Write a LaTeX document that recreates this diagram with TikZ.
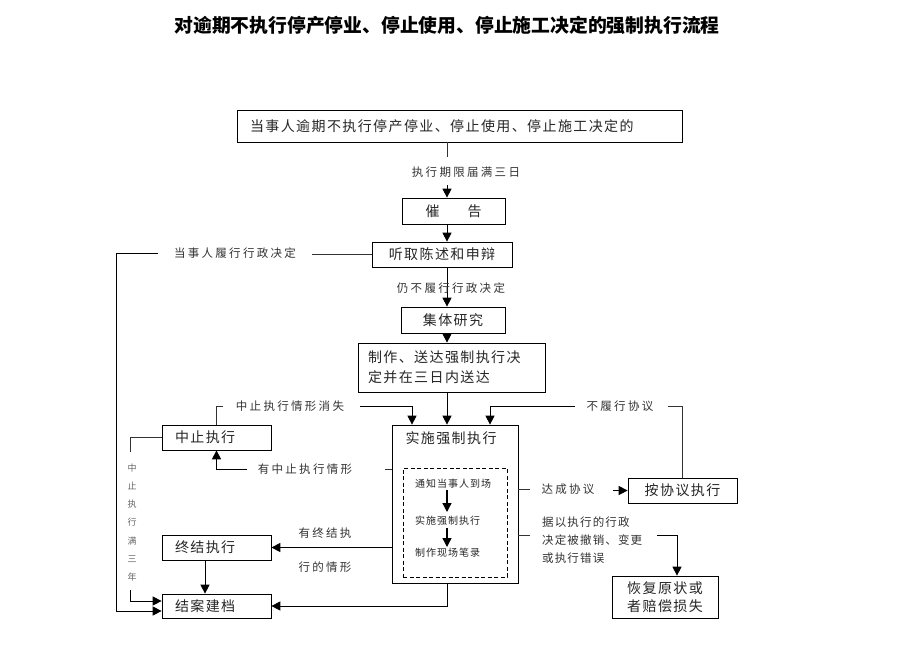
\documentclass[tikz,border=0pt]{standalone}
\usepackage{fontspec}
\setmainfont{Noto Sans CJK SC}
\newfontfamily\boxfont[LetterSpace=10]{Noto Sans CJK SC}
\newfontfamily\labfont[LetterSpace=20]{Noto Sans CJK SC}
\usetikzlibrary{arrows.meta,shadows}
\tikzset{
  box/.style={draw, line width=0.7pt, fill=white, inner sep=0pt, text=black!85,
    drop shadow={shadow xshift=1.2pt, shadow yshift=-1.2pt, fill=black, opacity=1},
    font=\boxfont\fontsize{14}{20}\selectfont, align=center},
  lbox/.style={box, text width=83pt, inner xsep=13pt, align=left},
  lab/.style={font=\labfont\fontsize{11.5}{18}\selectfont, text=black!80, inner sep=0pt},
  small/.style={font=\boxfont\fontsize{10}{12}\selectfont, text=black!85, inner sep=0pt},
  arr/.style={-{Triangle[length=9pt,width=9pt]}, line width=0.9pt},
  ln/.style={line width=0.7pt, black!80}
}
\begin{document}
\begin{tikzpicture}[x=1pt,y=-1pt]
\useasboundingbox[fill=white] (0,0) rectangle (900,672);
\coordinate (cx) at (447,0);
\coordinate (xl) at (412,0);
\coordinate (xr) at (490,0);
\coordinate (xh) at (677,0);
\coordinate (xz) at (205,0);

\node[font=\bfseries\fontsize{18.8}{22}\selectfont] (title) at (447,25) {对逾期不执行停产停业、停止使用、停止施工决定的强制执行流程};

% boxes
\node[box, text width=419pt, inner xsep=13pt, align=left, minimum height=32pt] (b1) at (459.5,126) {当事人逾期不执行停产停业、停止使用、停止施工决定的};
\node[box, minimum width=103pt, minimum height=26pt] (cg) at (453.5,211) {催\quad\quad 告};
\node[box, minimum width=140pt, minimum height=25pt] (tq) at (442,254.5) {听取陈述和申辩};
\node[box, minimum width=104pt, minimum height=26pt] (jt) at (453,320) {集体研究};
\node[box, text width=167pt, inner xsep=10pt, align=left, minimum height=49pt] (zz) at (451.5,367.5) {制作、送达强制执行决\\定并在三日内送达};
\node[box, minimum width=126pt, minimum height=158pt] (ss) at (455,504) {};
\node[font=\boxfont\fontsize{14}{20}\selectfont, text=black!85, inner sep=0pt] (sst) at (451,438) {实施强制执行};
\node[draw, line width=1pt, dash pattern=on 4pt off 2.5pt, minimum width=104pt, minimum height=109pt, inner sep=0pt] (db) at (455,522.5) {};
\node[small, anchor=west] (i1) at (415,484) {通知当事人到场};
\node[small, anchor=west] (i2) at (415,521) {实施强制执行};
\node[small, anchor=west] (i3) at (415,553) {制作现场笔录};
\node[lbox, minimum height=25pt] (zzx) at (216.5,437.5) {中止执行};
\node[lbox, minimum height=25pt] (zj) at (216.5,547.5) {终结执行};
\node[lbox, minimum height=24pt] (ja) at (216.5,606) {结案建档};
\node[box, minimum width=109pt, minimum height=25pt] (ax) at (682.5,490.5) {按协议执行};
\node[box, minimum width=106pt, minimum height=42pt, font=\boxfont\fontsize{14}{18.5}\selectfont] (hf) at (665,597) {恢复原状或\\者赔偿损失};

% main column
\draw[ln] (b1.south -| cx) -- (447,157);
\node[lab] (l1) at (466,172) {执行期限届满三日};
\draw[arr] (447,185) -- (cg.north -| cx);
\draw[arr] (cg.south -| cx) -- (tq.north -| cx);
\draw[arr] (tq.south -| cx) -- (jt.north -| cx);
\node[lab] (l2) at (451,288) {仍不履行行政决定};
\draw[arr] (jt.south -| cx) -- (zz.north -| cx);
\draw[arr] (zz.south -| cx) -- (ss.north -| cx);

% inner arrows
\draw[arr, line width=1.4pt] (447,490) -- (447,512);
\draw[arr, line width=1.4pt] (447,528) -- (447,547);

% resumed execution
\draw[ln] (zzx.north) |- (223,406);
\node[lab] (l3) at (290,406) {中止执行情形消失};
\draw[arr] (360,406) -| (ss.north -| xl);

% agreement not performed
\draw[ln] (ax.north) |- (668,406);
\node[lab] (l4) at (620,406) {不履行协议};
\draw[arr] (575,406) -| (ss.north -| xr);

% suspension
\draw[ln] (385,469) -- (392,469);
\node[lab] (l5) at (305,469) {有中止执行情形};
\draw[arr] (247,469) -| (zzx.south);

% agreement
\draw[ln] (518,489) -- (530,489);
\node[lab] (l6) at (568,489) {达成协议};
\draw[arr] (613,490.5) -- (ax.west);

% revoked
\draw[ln] (518,535) -- (530,535);
\node[lab, align=left, anchor=west, font=\boxfont\fontsize{11.5}{18}\selectfont] (l7) at (542,540) {据以执行的行政\\决定被撤销、变更\\或执行错误};
\draw[arr] (657,535) -| (hf.north -| xh);

% termination
\draw[arr] (zj.east -| ss.west) -- (zj.east);
\node[lab] (l9) at (325,533) {有终结执};
\node[lab] (l10) at (325,567) {行的情形};
\draw[arr] (zj.south -| xz) -- (ja.north -| xz);
\draw[arr] (ss.south -| cx) |- (ja.east);

% performed decision
\draw[ln] (tq.west) -- (312,254.5);
\node[lab] (l8) at (235,253) {当事人履行行政决定};
\draw[arr] (158,253) -- (116,253) |- ([yshift=-5pt]ja.west);

% suspension three years
\draw[ln] (zzx.west) -| (130,452);
\node[font=\boxfont\fontsize{9}{18.3}\selectfont, text=black!60, align=center, inner sep=0pt] (vt) at (132,522.5) {中\\止\\执\\行\\满\\三\\年};
\draw[arr] (130,590) |- ([yshift=5pt]ja.west);
\end{tikzpicture}
\end{document}
